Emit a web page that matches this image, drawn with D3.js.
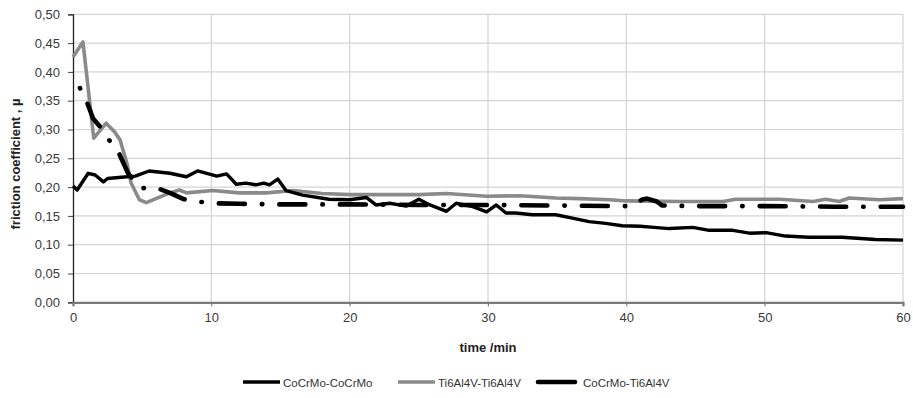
<!DOCTYPE html>
<html>
<head>
<meta charset="utf-8">
<script src="https://cdn.jsdelivr.net/npm/d3@7"></script>
<style>
  body { margin: 0; background: #fff; }
  svg { display: block; font-family: "Liberation Sans", Arial, sans-serif; }
</style>
</head>
<body>
<div id="chart"></div>
<script>
// Data
const X_TICKS = [0, 10, 20, 30, 40, 50, 60];
const Y_TICKS = [0, 0.05, 0.1, 0.15, 0.2, 0.25, 0.3, 0.35, 0.4, 0.45, 0.5];
const SERIES_NAMES = ['CoCrMo-CoCrMo', 'Ti6Al4V-Ti6Al4V', 'CoCrMo-Ti6Al4V'];

const coCrTime = [0, 0.3, 1.1, 1.6, 2.2, 2.5, 3.5, 4.5, 5.5, 7.0, 8.2, 9.0, 10.4, 11.1, 11.8, 12.5, 13.2, 13.8, 14.2, 14.8, 15.4, 16.6, 18.5, 20.0, 21.2, 21.9, 22.9, 24.1, 25.0, 25.8, 27.0, 27.7, 28.9, 29.9, 30.6, 31.3, 32.0, 33.2, 34.9, 36.1, 37.3, 38.5, 39.7, 41.0, 42.0, 43.1, 44.8, 46.0, 47.7, 48.9, 50.1, 51.5, 53.2, 55.6, 58.0, 60];
const coCrMu = [0.202, 0.195, 0.224, 0.221, 0.209, 0.215, 0.217, 0.219, 0.228, 0.224, 0.218, 0.228, 0.219, 0.223, 0.205, 0.207, 0.204, 0.207, 0.204, 0.214, 0.194, 0.186, 0.179, 0.178, 0.182, 0.169, 0.172, 0.167, 0.179, 0.169, 0.158, 0.172, 0.166, 0.157, 0.169, 0.155, 0.155, 0.152, 0.152, 0.146, 0.140, 0.137, 0.133, 0.132, 0.130, 0.128, 0.130, 0.125, 0.125, 0.120, 0.121, 0.115, 0.113, 0.113, 0.109, 0.108];

const tiTime = [0, 0.72, 1.5, 2.4, 3.0, 3.4, 3.9, 4.2, 4.8, 5.3, 6.0, 7.0, 7.7, 8.2, 10.1, 12.0, 14.0, 15.9, 18.0, 20.0, 22.0, 25.0, 27.0, 29.9, 32.3, 34.9, 36.6, 38.8, 40.0, 43.8, 47.0, 47.9, 51.1, 53.5, 54.4, 55.4, 56.1, 58.3, 60];
const tiMu = [0.426, 0.452, 0.285, 0.311, 0.296, 0.282, 0.241, 0.207, 0.178, 0.173, 0.180, 0.190, 0.195, 0.190, 0.194, 0.190, 0.190, 0.194, 0.189, 0.187, 0.187, 0.187, 0.189, 0.184, 0.185, 0.181, 0.180, 0.178, 0.176, 0.175, 0.175, 0.179, 0.179, 0.175, 0.179, 0.175, 0.181, 0.178, 0.180];

const mixTime = [0.5, 1.0, 1.45, 1.95, 2.6, 3.3, 4.0, 4.9, 6.0, 7.0, 8.0, 9.0, 10.1, 12, 15, 20, 25, 30, 35, 40, 40.5, 41.1, 41.5, 42.2, 42.6, 45, 50, 55, 60];
const mixMu = [0.372, 0.348, 0.319, 0.305, 0.282, 0.260, 0.223, 0.198, 0.199, 0.190, 0.179, 0.175, 0.172, 0.171, 0.170, 0.170, 0.169, 0.169, 0.168, 0.167, 0.168, 0.178, 0.180, 0.175, 0.168, 0.167, 0.167, 0.166, 0.166];

// Layout
const WIDTH = 913;
const HEIGHT = 398;
const LEFT = 73;
const RIGHT = 903;
const TOP = 14.3;
const BOTTOM = 302.3;

const svg = d3.select('#chart')
  .append('svg')
  .attr('width', WIDTH)
  .attr('height', HEIGHT);

const x = d3.scaleLinear([0, 60], [LEFT, RIGHT]);
const y = d3.scaleLinear([0, 0.5], [BOTTOM, TOP]);

// Grid
svg.append('g')
  .selectAll('line.h')
  .data(Y_TICKS.slice(1))
  .join('line')
  .attr('x1', LEFT).attr('x2', RIGHT)
  .attr('y1', d => y(d)).attr('y2', d => y(d))
  .attr('stroke', '#d4d4d4').attr('stroke-width', 1.2);

svg.append('g')
  .selectAll('line.v')
  .data(X_TICKS.slice(1))
  .join('line')
  .attr('x1', d => x(d)).attr('x2', d => x(d))
  .attr('y1', TOP).attr('y2', BOTTOM + 4)
  .attr('stroke', '#d4d4d4').attr('stroke-width', 1.2);

// Y axis
const yAxis = d3.axisLeft(y)
  .tickValues(Y_TICKS)
  .tickSize(5)
  .tickPadding(8)
  .tickFormat(d => d3.format('.2f')(d).replace('.', ','));

const gy = svg.append('g')
  .attr('transform', `translate(${LEFT},0)`)
  .call(yAxis);
gy.select('.domain').attr('stroke', '#222').attr('stroke-width', 1.3);
gy.selectAll('.tick line').attr('stroke', '#444');
gy.selectAll('.tick text')
  .attr('font-size', 13)
  .attr('fill', '#3a3a3a')
  .attr('font-family', '"Liberation Sans", Arial, sans-serif');

// X axis
const xAxis = d3.axisBottom(x)
  .tickValues(X_TICKS)
  .tickSize(4)
  .tickPadding(6)
  .tickFormat(d3.format('d'));

const gx = svg.append('g')
  .attr('transform', `translate(0,${BOTTOM})`)
  .call(xAxis);
gx.select('.domain').attr('stroke', '#7a7a7a').attr('stroke-width', 2.2);
gx.selectAll('.tick line').attr('stroke', '#7a7a7a');
gx.selectAll('.tick text')
  .attr('font-size', 13)
  .attr('fill', '#3a3a3a')
  .attr('font-family', '"Liberation Sans", Arial, sans-serif');

// Series
const line = d3.line()
  .x(d => x(d[0]))
  .y(d => y(d[1]));

const zip = (ts, vs) => ts.map((t, i) => [t, vs[i]]);

svg.append('path')
  .datum(zip(tiTime, tiMu))
  .attr('d', line)
  .attr('fill', 'none')
  .attr('stroke', '#8a8a8a')
  .attr('stroke-width', 3.6)
  .attr('stroke-linejoin', 'round');

svg.append('path')
  .datum(zip(coCrTime, coCrMu))
  .attr('d', line)
  .attr('fill', 'none')
  .attr('stroke', '#000')
  .attr('stroke-width', 3.4)
  .attr('stroke-linejoin', 'round');

svg.append('path')
  .datum(zip(mixTime, mixMu))
  .attr('d', line)
  .attr('fill', 'none')
  .attr('stroke', '#000')
  .attr('stroke-width', 4.6)
  .attr('stroke-linecap', 'round')
  .attr('stroke-linejoin', 'round')
  .attr('stroke-dasharray', '0.5,17,26,17');

// Axis titles
svg.append('text')
  .attr('x', (LEFT + RIGHT) / 2)
  .attr('y', 352)
  .attr('text-anchor', 'middle')
  .attr('font-size', 13)
  .attr('font-weight', 'bold')
  .attr('fill', '#222')
  .text('time /min');

svg.append('text')
  .attr('transform', 'translate(20,164) rotate(-90)')
  .attr('text-anchor', 'middle')
  .attr('font-size', 13)
  .attr('font-weight', 'bold')
  .attr('fill', '#222')
  .text('friction coefficient , µ');

// Legend
const legendItems = [
  { name: SERIES_NAMES[0], color: '#000', width: 3.4, x: 243 },
  { name: SERIES_NAMES[1], color: '#8a8a8a', width: 3.6, x: 398 },
  { name: SERIES_NAMES[2], color: '#000', width: 4.6, x: 538 },
];

const legend = svg.append('g').attr('transform', 'translate(0,382)');
const item = legend.selectAll('g')
  .data(legendItems)
  .join('g')
  .attr('transform', d => `translate(${d.x},0)`);

item.append('line')
  .attr('x1', 0).attr('x2', 37)
  .attr('y1', 0).attr('y2', 0)
  .attr('stroke', d => d.color)
  .attr('stroke-width', d => d.width)
  .attr('stroke-linecap', (d, i) => i === 2 ? 'round' : 'butt');

item.append('text')
  .attr('x', (d, i) => i === 2 ? 45 : 40)
  .attr('y', 4.5)
  .attr('font-size', 11.5)
  .attr('fill', '#333')
  .text(d => d.name);
</script>
</body>
</html>
